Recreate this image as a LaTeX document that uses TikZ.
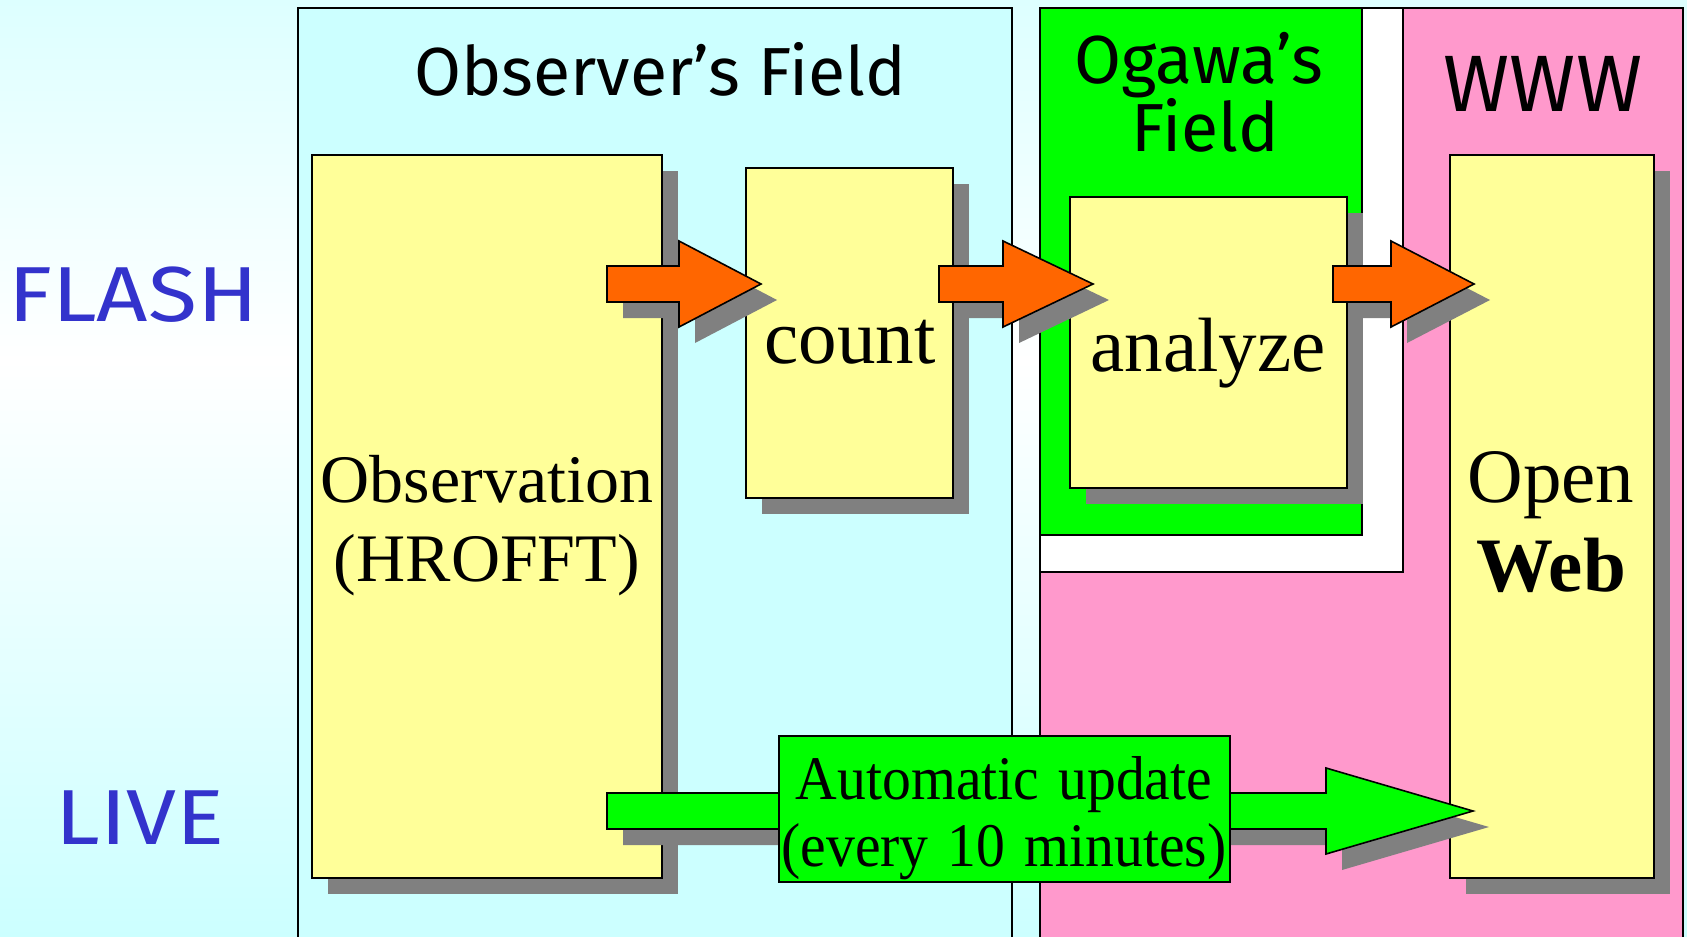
\documentclass[tikz,border=0pt]{standalone}
\usepackage{fontspec}
\usepackage{graphicx}
\setmainfont{Liberation Serif}
\newfontfamily\handfont{Fira Sans}
\usetikzlibrary{calc,shadows}

\definecolor{bgtop}{HTML}{DDFFFF}
\definecolor{bgbot}{HTML}{CCFFFF}
\definecolor{obscyan}{HTML}{CCFFFF}
\definecolor{boxyellow}{HTML}{FFFF99}
\definecolor{wwwpink}{HTML}{FF99CC}
\definecolor{fieldgreen}{HTML}{00FF00}
\definecolor{flowgray}{HTML}{808080}
\definecolor{flashorange}{HTML}{FF6600}
\definecolor{rowblue}{HTML}{3333CC}

\tikzset{
  region/.style={draw=black, line width=1.6pt, anchor=north west, inner sep=0pt, outer sep=0pt},
  stage/.style={region, fill=boxyellow,
    general shadow={fill=flowgray, draw=none, shadow xshift=16pt, shadow yshift=-16pt}},
  fieldtitle/.style={anchor=base, inner sep=0pt, font=\handfont\fontsize{68}{80}\selectfont},
  rowtitle/.style={anchor=base, inner sep=0pt, text=rowblue, font=\handfont\fontsize{78}{90}\selectfont},
  stagetext/.style={anchor=base, inner sep=0pt, align=center},
  flowshadow/.style={fill=flowgray, transform canvas={shift={(16,16)}}},
  flashflow/.style={draw=black, line width=1.6pt, line join=miter, fill=flashorange},
  liveflow/.style={draw=black, line width=1.6pt, line join=miter, fill=fieldgreen},
}

% horizontally narrowed / widened text
\newcommand\narrowtext[1]{\scalebox{0.93}[1]{#1}}
\newcommand\widetext[1]{\scalebox{1.15}[1]{#1}}

% block arrow from tail #1 to tip #2, head length #3, style #4
\newcommand\flowarrow[4]{%
  \path[#4] ($(#1)+(0,-18)$) -- ($(#2)+(-#3,-18)$) -- ($(#2)+(-#3,-43)$) -- (#2)
    -- ($(#2)+(-#3,43)$) -- ($(#2)+(-#3,18)$) -- ($(#1)+(0,18)$) -- cycle;}

\begin{document}
\begin{tikzpicture}[x=1pt,y=-1pt]
\useasboundingbox (0,0) rectangle (1687,937);
\clip (0,0) rectangle (1687,937);

% background
\shade[top color=bgtop, bottom color=white] (0,0) rectangle (1687,361);
\shade[top color=white, bottom color=bgbot] (0,360) rectangle (1687,937);

% fields
\node[region, fill=obscyan, minimum width=714pt, minimum height=945pt] (obsfield) at (298,8) {};
\node[region, fill=wwwpink, minimum width=643pt, minimum height=945pt] (wwwfield) at (1040,8) {};
\node[region, fill=white, minimum width=363pt, minimum height=564pt] (gapfield) at (1040,8) {};
\node[region, fill=fieldgreen, minimum width=322pt, minimum height=527pt] (ogawafield) at (1040,8) {};

\node[fieldtitle] (obstitle) at (660,95) {Observer’s Field};
\node[fieldtitle] (ogawatitle1) at (1199,83) {Ogawa’s};
\node[fieldtitle] (ogawatitle2) at (1205,151) {Field};
\node[fieldtitle, font=\handfont\fontsize{80}{90}\selectfont] (wwwtitle) at (1543,111) {WWW};

\node[rowtitle] (flash) at (133,321) {\widetext{FLASH}};
\node[rowtitle] (live) at (140,844) {\widetext{LIVE}};

% stages
\node[stage, minimum width=350pt, minimum height=723pt] (obs) at (312,155) {};
\node[stage, minimum width=207pt, minimum height=330pt] (count) at (746,168) {};
\node[stage, minimum width=277pt, minimum height=291pt] (analyze) at (1070,197) {};
\node[stage, minimum width=204pt, minimum height=723pt] (web) at (1450,155) {};

% flow arrows
\coordinate (f1t) at (607,284); \coordinate (f1h) at (761,284);
\coordinate (f2t) at (939,284); \coordinate (f2h) at (1093,284);
\coordinate (f3t) at (1333,284); \coordinate (f3h) at (1474,284);
\coordinate (lvt) at (607,811); \coordinate (lvh) at (1473,811);

\flowarrow{f1t}{f1h}{82}{flowshadow}
\flowarrow{f1t}{f1h}{82}{flashflow}
\flowarrow{f2t}{f2h}{90}{flowshadow}
\flowarrow{f2t}{f2h}{90}{flashflow}
\flowarrow{f3t}{f3h}{83}{flowshadow}
\flowarrow{f3t}{f3h}{83}{flashflow}
\flowarrow{lvt}{lvh}{147}{flowshadow}
\flowarrow{lvt}{lvh}{147}{liveflow}

\node[region, fill=fieldgreen, minimum width=451pt, minimum height=146pt] (update) at (779,736) {};

% stage labels
\node[stagetext, font=\fontsize{77}{89}\selectfont] (countlbl) at (850,363) {count};
\node[stagetext, font=\fontsize{77}{89}\selectfont] (analyzelbl) at (1208,371) {analyze};
\node[stagetext, text width=400pt, font=\fontsize{68}{79}\selectfont] (obslbl) at (487,502) {Observation\\(HROFFT)};
\node[stagetext, text width=240pt, font=\fontsize{77}{89}\selectfont] (weblbl) at (1551,502) {Open\\\textbf{Web}};
\node[stagetext, text width=460pt, font=\fontsize{62}{67}\selectfont] (updatelbl) at (1004,799) {\narrowtext{Automatic update}\\\narrowtext{(every 10 minutes)}};
\end{tikzpicture}
\end{document}
